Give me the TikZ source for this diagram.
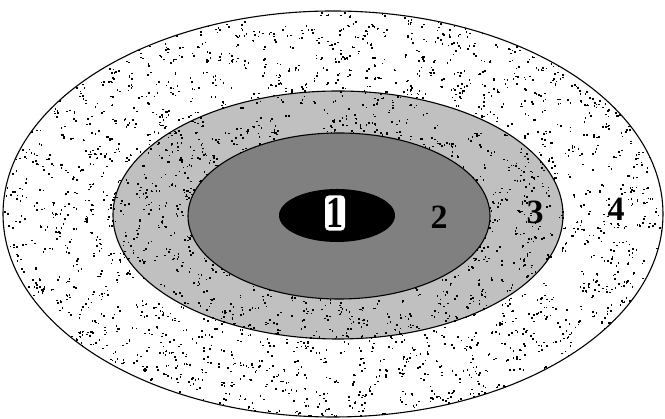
\documentclass[tikz,border=0pt]{standalone}
\usepackage{fontspec}
\setmainfont{Liberation Serif}
\begin{document}
\begin{tikzpicture}[x=1pt,y=1pt,
  ring/.style={draw=black,line width=1.1pt},
  dot/.style={fill=black},
  lbl/.style={font=\fontsize{34}{36}\selectfont\bfseries,inner sep=0pt}]
\useasboundingbox (0,0) rectangle (665,419);
\fill[white] (0,0) rectangle (665,419);
% outer ring (4)
\path[fill=white] (333,205) ellipse [x radius=330,y radius=203];
% ring 3
\path[fill={rgb,255:red,192;green,192;blue,192}] (338,204) ellipse [x radius=225,y radius=124];
% stipple
\pgfmathsetseed{7}
\begin{scope}
\clip (333,205) ellipse [x radius=330,y radius=203];
\foreach \i in {1,...,2300}{
  \pgfmathsetmacro\px{rnd*665}
  \pgfmathsetmacro\py{rnd*419}
  \fill[dot] (\px,\py) rectangle ++(1.6,1.6);
  \fill[dot] ({\px+rand*4},{\py+rand*4}) rectangle ++(1.6,1.6);
}
\end{scope}
\draw[ring] (333,205) ellipse [x radius=330,y radius=203];
\draw[ring] (338,204) ellipse [x radius=225,y radius=124];
% ring 2
\path[ring,fill={rgb,255:red,128;green,128;blue,128}] (339,203) ellipse [x radius=151,y radius=83];
% core 1
\path[fill=black] (337,203.5) ellipse [x radius=58,y radius=26.5];
\node[lbl,fill=white,rounded corners=4pt,inner xsep=1.5pt,inner ysep=3pt] (n1) at (335,206) {\scalebox{1}[1.3]{1}};
\node[lbl] (n2) at (439,202) {2};
\node[lbl] (n3) at (535,207) {3};
\node[lbl] (n4) at (616,210) {4};
\end{tikzpicture}
\end{document}
